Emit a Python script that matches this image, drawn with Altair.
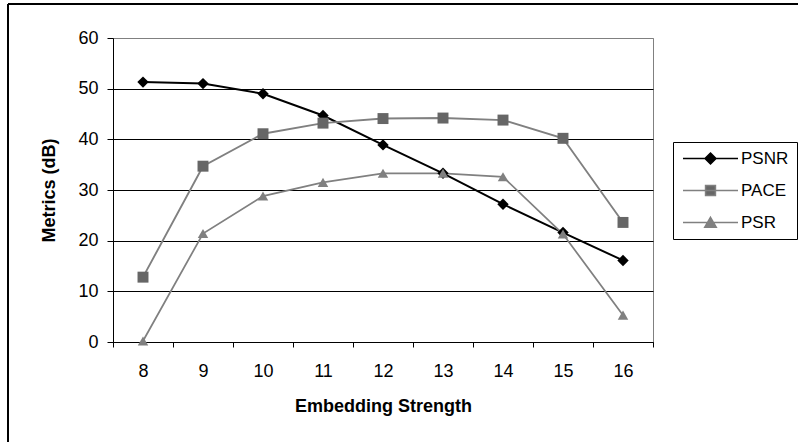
import altair as alt
import pandas as pd

# ---- data ----
strengths = ["8", "9", "10", "11", "12", "13", "14", "15", "16"]
series_names = ["PSNR", "PACE", "PSR"]
psnr = [51.3, 51.0, 49.0, 44.7, 38.9, 33.3, 27.2, 21.6, 16.1]
pace = [12.8, 34.7, 41.1, 43.2, 44.1, 44.2, 43.8, 40.2, 23.6]
psr = [0.2, 21.4, 28.8, 31.5, 33.3, 33.3, 32.6, 21.3, 5.3]
y_ticks = [0, 10, 20, 30, 40, 50, 60]

# ---- styles ----
line_colors = ["#000000", "#808080", "#808080"]
marker_colors = ["#000000", "#666666", "#808080"]
line_widths = [2, 1.75, 1.75]
marker_shapes = ["diamond", "square", "triangle-up"]
marker_sizes = [130, 110, 130]
legend_shapes = [
    "M-5,0L5,0M0,-1L1,0L0,1L-1,0Z",
    "M-5,0L5,0M-0.9,-0.9L0.9,-0.9L0.9,0.9L-0.9,0.9Z",
    "M-5,0L5,0M0,-0.95L1.05,0.85L-1.05,0.85Z",
]
FONT = "Liberation Sans"

rows = []
for name, vals in zip(series_names, [psnr, pace, psr]):
    for s, v in zip(strengths, vals):
        rows.append({"Strength": s, "Series": name, "Value": v})
df = pd.DataFrame(rows)

x_enc = alt.X(
    "Strength:O",
    sort=strengths,
    bandPosition=0.5,
    scale=alt.Scale(type="band", paddingInner=0, paddingOuter=0),
    axis=alt.Axis(
        title="Embedding Strength",
        labelAngle=0,
        tickBand="extent",
        grid=False,
        tickSize=5,
        labelPadding=15,
        labelFontSize=18,
        titleFontSize=18,
        titleFontWeight="bold",
        titleY=55,
        titleBaseline="top",
    ),
)
y_enc = alt.Y(
    "Value:Q",
    scale=alt.Scale(domain=[0, 60], nice=False, zero=True),
    axis=alt.Axis(
        title="Metrics (dB)",
        values=y_ticks,
        grid=True,
        gridColor={"condition": {"test": "datum.value >= 60", "value": "#808080"}, "value": "#000000"},
        gridWidth=1,
        tickSize=6,
        labelPadding=9,
        labelFontSize=18,
        titleFontSize=18,
        titleFontWeight="bold",
        titleX=-55,
    ),
)

base = alt.Chart(df)

lines = base.mark_line().encode(
    x=x_enc,
    y=y_enc,
    stroke=alt.Stroke("Series:N", scale=alt.Scale(domain=series_names, range=line_colors), legend=None),
    strokeWidth=alt.StrokeWidth("Series:N", scale=alt.Scale(domain=series_names, range=line_widths), legend=None),
)

points = base.mark_point(filled=True, opacity=1).encode(
    x=x_enc,
    y=y_enc,
    fill=alt.Fill("Series:N", scale=alt.Scale(domain=series_names, range=marker_colors), legend=None),
    shape=alt.Shape("Series:N", scale=alt.Scale(domain=series_names, range=marker_shapes), legend=None),
    size=alt.Size("Series:N", scale=alt.Scale(domain=series_names, range=marker_sizes), legend=None),
)

leg = alt.Legend(
    title=None,
    orient="none",
    legendX=560,
    legendY=104,
    direction="vertical",
    padding=8,
    strokeColor="#000000",
    labelFont=FONT,
    labelFontSize=17,
    labelColor="#000000",
    labelOffset=22,
    symbolOffset=21,
    symbolSize=121,
    symbolStrokeWidth=1.5,
    symbolOpacity=1,
    rowPadding=14,
    labelLimit=300,
)

legend_layer = base.transform_filter("false").mark_point(filled=True, size=121, strokeWidth=1.5).encode(
    shape=alt.Shape("Series:N", scale=alt.Scale(domain=series_names, range=legend_shapes), legend=leg),
    fill=alt.Fill("Series:N", scale=alt.Scale(domain=series_names, range=marker_colors), legend=leg),
    stroke=alt.Stroke("Series:N", scale=alt.Scale(domain=series_names, range=line_colors), legend=leg),
)

frame_df = pd.DataFrame({"k": [0]})
frame_v = alt.Chart(frame_df).mark_rule(color="#000000", strokeWidth=2).encode(
    x=alt.value(-105), y=alt.value(-34), y2=alt.value(420)
)
frame_h = alt.Chart(frame_df).mark_rule(color="#000000", strokeWidth=2).encode(
    x=alt.value(-105), x2=alt.value(700), y=alt.value(-34)
)

chart = (
    alt.layer(lines, points, legend_layer, frame_v, frame_h)
    .resolve_scale(shape="independent", fill="independent", stroke="independent")
    .properties(
        width=540,
        height=304,
        autosize=alt.AutoSizeParams(type="none"),
        padding={"left": 113, "top": 38, "right": 145, "bottom": 100},
        background="#ffffff",
    )
    .configure_view(fill="#C0C0C0", stroke="#808080", strokeWidth=1)
    .configure_axis(
        labelFont=FONT,
        titleFont=FONT,
        labelColor="#000000",
        titleColor="#000000",
        domainColor="#000000",
        tickColor="#000000",
        domainWidth=1,
        tickWidth=1,
    )
    .configure_legend(labelFont=FONT)
)

chart.save("out.html", embed_options={"renderer": "svg", "actions": False})
